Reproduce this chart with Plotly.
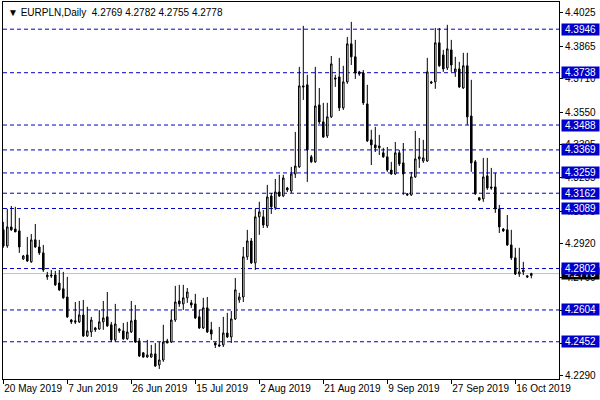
import pandas as pd
import plotly.graph_objects as go

chart_title = "▼ EURPLN,Daily  4.2769 4.2782 4.2755 4.2778"

# Daily bars (broker feed includes Sunday bars)
dates = pd.bdate_range("2019-05-20", periods=133, freq="C",
                       weekmask="Sun Mon Tue Wed Thu Fri").strftime("%Y-%m-%d").tolist()

open_ = [4.2987, 4.2910, 4.3001, 4.2991, 4.2982, 4.2848, 4.2867, 4.2834, 4.2939, 4.2905,
         4.2877, 4.2762, 4.2771, 4.2771, 4.2733, 4.2705, 4.2666, 4.2556, 4.2552, 4.2547,
         4.2580, 4.2480, 4.2499, 4.2518, 4.2513, 4.2547, 4.2571, 4.2533, 4.2461, 4.2513,
         4.2504, 4.2466, 4.2499, 4.2556, 4.2456, 4.2399, 4.2379, 4.2379, 4.2394, 4.2341,
         4.2365, 4.2456, 4.2451, 4.2556, 4.2647, 4.2633, 4.2662, 4.2638, 4.2633, 4.2571,
         4.2518, 4.2614, 4.2509, 4.2446, 4.2437, 4.2437, 4.2494, 4.2475, 4.2561, 4.2652,
         4.2666, 4.2858, 4.2934, 4.2829, 4.3049, 4.3049, 4.3006, 4.3149, 4.3092, 4.3168,
         4.3149, 4.3187, 4.3173, 4.3254, 4.3288, 4.3675, 4.3680, 4.3336, 4.3312, 4.3584,
         4.3503, 4.3436, 4.3527, 4.3713, 4.3718, 4.3570, 4.3694, 4.3876, 4.3814, 4.3742,
         4.3737, 4.3589, 4.3417, 4.3393, 4.3379, 4.3355, 4.3336, 4.3273, 4.3254, 4.3355,
         4.3307, 4.3159, 4.3154, 4.3240, 4.3326, 4.3316, 4.3316, 4.3694, 4.3694, 4.3881,
         4.3823, 4.3761, 4.3847, 4.3742, 4.3756, 4.3665, 4.3771, 4.3531, 4.3312, 4.3140,
         4.3135, 4.3245, 4.3192, 4.3192, 4.3087, 4.2991, 4.2987, 4.2915, 4.2853, 4.2776,
         4.2786, 4.2767, 4.2769]

high = [4.3025, 4.3087, 4.3101, 4.3097, 4.3044, 4.2867, 4.2953, 4.2967, 4.3015, 4.2939,
        4.2915, 4.2786, 4.2795, 4.2791, 4.2795, 4.2786, 4.2762, 4.2561, 4.2642, 4.2647,
        4.2652, 4.2619, 4.2571, 4.2523, 4.2604, 4.2647, 4.2690, 4.2547, 4.2633, 4.2518,
        4.2542, 4.2547, 4.2647, 4.2628, 4.2470, 4.2403, 4.2461, 4.2437, 4.2446, 4.2451,
        4.2533, 4.2466, 4.2604, 4.2719, 4.2724, 4.2724, 4.2709, 4.2652, 4.2681, 4.2604,
        4.2662, 4.2666, 4.2547, 4.2451, 4.2523, 4.2571, 4.2590, 4.2599, 4.2757, 4.2686,
        4.2905, 4.2987, 4.2948, 4.3087, 4.3121, 4.3082, 4.3202, 4.3163, 4.3230, 4.3250,
        4.3250, 4.3192, 4.3288, 4.3455, 4.3766, 4.3962, 4.3728, 4.3345, 4.3766, 4.3665,
        4.3594, 4.3594, 4.3818, 4.3728, 4.3809, 4.3771, 4.3909, 4.3981, 4.3895, 4.3747,
        4.3751, 4.3680, 4.3465, 4.3479, 4.3441, 4.3379, 4.3383, 4.3312, 4.3407, 4.3369,
        4.3402, 4.3163, 4.3264, 4.3460, 4.3426, 4.3417, 4.3809, 4.3699, 4.3952, 4.3952,
        4.3847, 4.3967, 4.3895, 4.3814, 4.3790, 4.3833, 4.3833, 4.3704, 4.3321, 4.3144,
        4.3331, 4.3331, 4.3283, 4.3259, 4.3106, 4.2996, 4.3058, 4.2987, 4.2901, 4.2901,
        4.2834, 4.2771, 4.2782]

low = [4.2901, 4.2901, 4.2982, 4.2977, 4.2877, 4.2843, 4.2834, 4.2829, 4.2901, 4.2867,
       4.2786, 4.2748, 4.2757, 4.2719, 4.2695, 4.2657, 4.2566, 4.2537, 4.2537, 4.2542,
       4.2475, 4.2475, 4.2475, 4.2499, 4.2509, 4.2509, 4.2523, 4.2451, 4.2451, 4.2494,
       4.2461, 4.2461, 4.2494, 4.2446, 4.2379, 4.2375, 4.2375, 4.2375, 4.2332, 4.2322,
       4.2356, 4.2446, 4.2446, 4.2547, 4.2619, 4.2604, 4.2638, 4.2614, 4.2561, 4.2513,
       4.2513, 4.2494, 4.2461, 4.2422, 4.2427, 4.2427, 4.2470, 4.2446, 4.2556, 4.2638,
       4.2642, 4.2843, 4.2824, 4.2795, 4.2963, 4.2996, 4.2996, 4.3063, 4.3082, 4.3144,
       4.3144, 4.3168, 4.3163, 4.3235, 4.3283, 4.3608, 4.3216, 4.3307, 4.3307, 4.3493,
       4.3426, 4.3426, 4.3522, 4.3670, 4.3555, 4.3560, 4.3685, 4.3775, 4.3708, 4.3723,
       4.3584, 4.3407, 4.3297, 4.3359, 4.3345, 4.3331, 4.3264, 4.3250, 4.3250, 4.3292,
       4.3154, 4.3149, 4.3149, 4.3235, 4.3283, 4.3307, 4.3312, 4.3685, 4.3661, 4.3766,
       4.3742, 4.3751, 4.3742, 4.3718, 4.3665, 4.3661, 4.3489, 4.3264, 4.3154, 4.3125,
       4.3121, 4.3178, 4.3178, 4.3068, 4.2972, 4.2977, 4.2910, 4.2843, 4.2771, 4.2762,
       4.2771, 4.2757, 4.2755]

close = [4.2910, 4.3001, 4.2987, 4.2977, 4.2905, 4.2862, 4.2838, 4.2939, 4.2905, 4.2877,
         4.2795, 4.2771, 4.2767, 4.2724, 4.2700, 4.2662, 4.2571, 4.2547, 4.2547, 4.2580,
         4.2480, 4.2504, 4.2556, 4.2509, 4.2547, 4.2566, 4.2528, 4.2461, 4.2537, 4.2504,
         4.2466, 4.2499, 4.2552, 4.2451, 4.2384, 4.2379, 4.2389, 4.2394, 4.2336, 4.2365,
         4.2451, 4.2446, 4.2556, 4.2642, 4.2633, 4.2662, 4.2690, 4.2628, 4.2566, 4.2518,
         4.2614, 4.2499, 4.2489, 4.2437, 4.2432, 4.2494, 4.2475, 4.2561, 4.2700, 4.2666,
         4.2858, 4.2934, 4.2829, 4.3049, 4.3073, 4.3010, 4.3144, 4.3097, 4.3168, 4.3149,
         4.3235, 4.3178, 4.3254, 4.3292, 4.3675, 4.3670, 4.3369, 4.3312, 4.3579, 4.3503,
         4.3431, 4.3527, 4.3780, 4.3708, 4.3570, 4.3694, 4.3876, 4.3814, 4.3737, 4.3732,
         4.3594, 4.3412, 4.3393, 4.3379, 4.3388, 4.3336, 4.3273, 4.3254, 4.3355, 4.3302,
         4.3254, 4.3154, 4.3240, 4.3326, 4.3336, 4.3331, 4.3742, 4.3689, 4.3881, 4.3771,
         4.3756, 4.3852, 4.3775, 4.3756, 4.3670, 4.3771, 4.3527, 4.3307, 4.3159, 4.3130,
         4.3240, 4.3187, 4.3187, 4.3087, 4.3001, 4.2982, 4.2915, 4.2853, 4.2776, 4.2786,
         4.2795, 4.2762, 4.2778]

level_prices = [4.3946, 4.3738, 4.3488, 4.3369, 4.3259, 4.3162, 4.3089, 4.2802, 4.2604, 4.2452]
last_price = 4.2778

y_tick_vals = [4.2290, 4.2445, 4.2600, 4.2760, 4.2920, 4.3075, 4.3235,
               4.3395, 4.3550, 4.3710, 4.3865, 4.4025]
x_tick_dates = ["2019-05-20", "2019-06-07", "2019-06-26", "2019-07-15", "2019-08-02",
                "2019-08-21", "2019-09-09", "2019-09-27", "2019-10-16"]
x_tick_labels = ["20 May 2019", "7 Jun 2019", "26 Jun 2019", "15 Jul 2019", "2 Aug 2019",
                 "21 Aug 2019", "9 Sep 2019", "27 Sep 2019", "16 Oct 2019"]

FONT = "Liberation Sans, Arial, sans-serif"
LEVEL_BLUE = "#0000C8"

fig = go.Figure()
fig.add_trace(go.Candlestick(
    x=dates, open=open_, high=high, low=low, close=close,
    increasing=dict(line=dict(color="black", width=1), fillcolor="white"),
    decreasing=dict(line=dict(color="black", width=1), fillcolor="black"),
    whiskerwidth=0, hoverinfo="skip", showlegend=False,
))

shapes = []
# bid line
shapes.append(dict(type="line", xref="paper", yref="y", x0=0, x1=1,
                   y0=last_price, y1=last_price,
                   line=dict(color="#C0C0C0", width=1), layer="below"))
for lv in level_prices:
    shapes.append(dict(type="line", xref="paper", yref="y", x0=0, x1=1, y0=lv, y1=lv,
                       line=dict(color=LEVEL_BLUE, width=1, dash="4px,3px"), layer="below"))

annotations = []
annotations.append(dict(text=f"{last_price:.4f}", xref="paper", yref="y", x=1, y=last_price,
                        xanchor="left", yanchor="middle", xshift=2, showarrow=False,
                        bgcolor="black", borderpad=0, width=37, align="center",
                        font=dict(family=FONT, size=10, color="white")))
for lv in level_prices:
    annotations.append(dict(text=f"{lv:.4f}", xref="paper", yref="y", x=1, y=lv,
                            xanchor="left", yanchor="middle", xshift=2, showarrow=False,
                            bgcolor=LEVEL_BLUE, borderpad=0, width=37, align="center",
                            font=dict(family=FONT, size=10, color="white")))
annotations.append(dict(text=chart_title, xref="paper", yref="paper", x=0, y=1,
                        xanchor="left", yanchor="top", xshift=3, yshift=-3, showarrow=False,
                        font=dict(family=FONT, size=10, color="black")))

fig.update_layout(
    width=600, height=400,
    margin=dict(l=3, r=41, t=2, b=21, autoexpand=False),
    paper_bgcolor="white", plot_bgcolor="white",
    showlegend=False, boxgap=0.45,
    shapes=shapes, annotations=annotations,
    xaxis=dict(type="category", range=[-0.075, 138.925], rangeslider=dict(visible=False),
               tickmode="array", tickvals=x_tick_dates, ticktext=x_tick_labels,
               ticks="outside", ticklen=4, tickcolor="black", ticklabelposition="outside right",
               tickangle=0, automargin=False,
               showline=True, linecolor="black", linewidth=1, mirror=True,
               showgrid=False, zeroline=False,
               tickfont=dict(family=FONT, size=10, color="black")),
    yaxis=dict(side="right", range=[4.2274, 4.4076], automargin=False,
               tickmode="array", tickvals=y_tick_vals, tickformat=".4f",
               ticks="outside", ticklen=3, tickcolor="black",
               showline=True, linecolor="black", linewidth=1, mirror=True,
               showgrid=False, zeroline=False,
               tickfont=dict(family=FONT, size=10, color="black")),
)

fig.write_html("out.html", config={"displayModeBar": False},
               post_script="document.body.style.margin='0';document.body.style.overflow='hidden';")
